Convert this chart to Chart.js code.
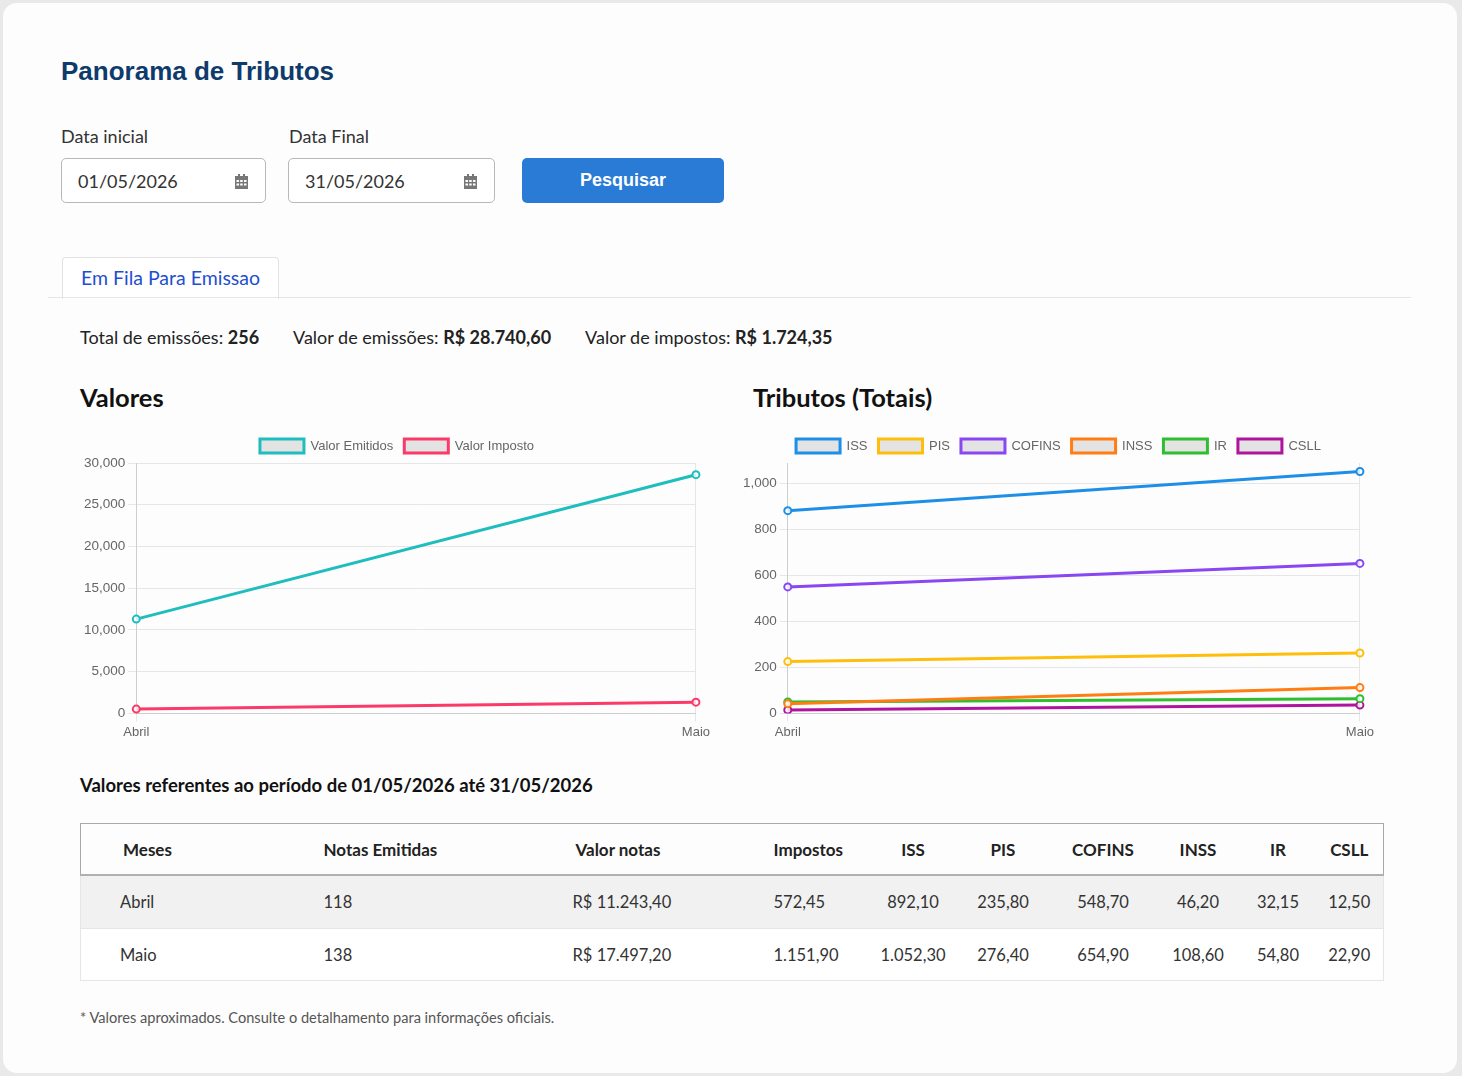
<!DOCTYPE html>
<html lang="pt-BR">
<head>
<meta charset="utf-8">
<title>Panorama de Tributos</title>
<script src="https://cdn.jsdelivr.net/npm/chart.js@4.4.1/dist/chart.umd.min.js"></script>
<style>
    body { margin: 0; background: #e9e9e9; font-family: "Lato", "Noto Sans", sans-serif; color: #222; }
    .card { position: absolute; left: 3px; top: 3px; width: 1454px; height: 1070px; background: #fdfdfd; border-radius: 14px; }
    .abs { position: absolute; }
    h1 { position: absolute; left: 58px; top: 53px; margin: 0; font: bold 26px "Liberation Sans", Arial, sans-serif; color: #0e3a6c; }
    .lbl { font-size: 18px; color: #333; }
    .inp { position: absolute; height: 45px; border: 1px solid #b8b8b8; border-radius: 5px; background: #fff; box-sizing: border-box; }
    .inp span { position: absolute; left: 16px; top: 11px; font-size: 18px; color: #333; }
    .inp svg { position: absolute; right: 17px; top: 15px; }
    .btn { position: absolute; left: 519px; top: 155px; width: 202px; height: 45px; background: #2a7bd6; border-radius: 5px; color: #fff; font: bold 18px "Liberation Sans", Arial, sans-serif; text-align: center; line-height: 45px; }
    .tab { position: absolute; left: 59px; top: 254px; width: 215px; height: 41px; border: 1px solid #e2e2e2; border-bottom: none; border-radius: 4px 4px 0 0; background: #fff; }
    .tab span { position: absolute; left: 18px; top: 8px; font-size: 19.5px; color: #1f4fd0; }
    .rule { position: absolute; left: 45px; top: 294px; width: 1363px; height: 1px; background: #e6e6e6; }
    .resumo { position: absolute; left: 77px; top: 323px; font-size: 18px; color: #222; white-space: nowrap; }
    .resumo span { margin-right: 30px; }
    .resumo b { font-weight: 700; }
    .sec { position: absolute; top: 379px; font-size: 25.5px; font-weight: 700; color: #111; }
    .chartbox { position: absolute; top: 425px; height: 315px; }
    .legenda { position: absolute; left: 77px; top: 771px; font-size: 18.5px; font-weight: 700; color: #111; }
    table { position: absolute; left: 77px; top: 820px; width: 1303px; border-collapse: collapse; table-layout: fixed; font-size: 16.5px; }
    th { height: 50px; padding: 0; font-weight: 700; font-size: 17px; color: #222; border-top: 1.5px solid #a8a8a8; border-bottom: 2px solid #b0b0b0; }
    th:first-child { border-left: 1.5px solid #a8a8a8; }
    th:last-child { border-right: 1.5px solid #a8a8a8; }
    td { height: 52px; padding: 0; color: #333; border-bottom: 1px solid #e6e6e6; }
    td:first-child { border-left: 1px solid #e6e6e6; }
    td:last-child { border-right: 1px solid #e6e6e6; }
    tbody tr:nth-child(1) td { background: #f1f1f1; }
    tbody tr:nth-child(2) td { background: #fff; height: 51px; }
    .l { text-align: left; }
    .c { text-align: center; }
    .nota { position: absolute; left: 77px; top: 1006px; font-size: 14.6px; color: #555; }
</style>
</head>
<body>
<div class="card">
    <h1>Panorama de Tributos</h1>

    <div class="abs lbl" style="left:58px; top:122px;">Data inicial</div>
    <div class="abs lbl" style="left:286px; top:122px;">Data Final</div>
    <div class="inp" style="left:58px; top:155px; width:205px;">
        <span>01/05/2026</span>
        <svg width="13" height="15" viewBox="0 0 13 15"><rect x="0" y="2" width="13" height="13" fill="#777"/><rect x="3" y="0" width="2" height="4" fill="#777"/><rect x="8" y="0" width="2" height="4" fill="#777"/><g fill="#fff"><rect x="1.5" y="6" width="2.5" height="2"/><rect x="5.2" y="6" width="2.5" height="2"/><rect x="9" y="6" width="2.5" height="2"/><rect x="1.5" y="9.5" width="2.5" height="2"/><rect x="5.2" y="9.5" width="2.5" height="2"/><rect x="9" y="9.5" width="2.5" height="2"/></g></svg>
    </div>
    <div class="inp" style="left:285px; top:155px; width:207px;">
        <span>31/05/2026</span>
        <svg width="13" height="15" viewBox="0 0 13 15"><rect x="0" y="2" width="13" height="13" fill="#777"/><rect x="3" y="0" width="2" height="4" fill="#777"/><rect x="8" y="0" width="2" height="4" fill="#777"/><g fill="#fff"><rect x="1.5" y="6" width="2.5" height="2"/><rect x="5.2" y="6" width="2.5" height="2"/><rect x="9" y="6" width="2.5" height="2"/><rect x="1.5" y="9.5" width="2.5" height="2"/><rect x="5.2" y="9.5" width="2.5" height="2"/><rect x="9" y="9.5" width="2.5" height="2"/></g></svg>
    </div>
    <div class="btn">Pesquisar</div>

    <div class="tab"><span>Em Fila Para Emissao</span></div>
    <div class="rule"></div>

    <div class="resumo">
        <span>Total de emissões: <b>256</b></span>
        <span>Valor de emissões: <b>R$ 28.740,60</b></span>
        <span>Valor de impostos: <b>R$ 1.724,35</b></span>
    </div>

    <div class="sec" style="left:77px;">Valores</div>
    <div class="sec" style="left:750px;">Tributos (Totais)</div>

    <div class="chartbox" style="left:78px; width:632px;"><canvas id="valoresChart"></canvas></div>
    <div class="chartbox" style="left:737px; width:637px;"><canvas id="tributosChart"></canvas></div>

    <div class="legenda">Valores referentes ao período de 01/05/2026 até 31/05/2026</div>

    <table id="tabela">
        <colgroup>
            <col style="width:220px"><col style="width:240px"><col style="width:210px"><col style="width:120px">
            <col style="width:85px"><col style="width:95px"><col style="width:105px"><col style="width:85px">
            <col style="width:75px"><col style="width:68px">
        </colgroup>
        <thead><tr></tr></thead>
        <tbody></tbody>
    </table>

    <div class="nota">* Valores aproximados. Consulte o detalhamento para informações oficiais.</div>
</div>

<script>
// dados dos graficos
const meses = ['Abril', 'Maio'];
const valorEmitidos = [11300, 28600];
const valorImposto = [520, 1350];

const iss = [880, 1050];
const pis = [225, 262];
const cofins = [549, 651];
const inss = [42, 112];
const ir = [50, 64];
const csll = [15, 36];

// dados da tabela
const colunas = ['Meses', 'Notas Emitidas', 'Valor notas', 'Impostos', 'ISS', 'PIS', 'COFINS', 'INSS', 'IR', 'CSLL'];
const linhaAbril = ['Abril', '118', 'R$ 11.243,40', '572,45', '892,10', '235,80', '548,70', '46,20', '32,15', '12,50'];
const linhaMaio = ['Maio', '138', 'R$ 17.497,20', '1.151,90', '1.052,30', '276,40', '654,90', '108,60', '54,80', '22,90'];

// montar tabela
const padding = ['42px', '23px', '35px', '23px'];
const headRow = document.querySelector('#tabela thead tr');
colunas.forEach(function (c, i) {
    const th = document.createElement('th');
    th.textContent = c;
    if (i < 4) { th.className = 'l'; th.style.paddingLeft = padding[i]; } else { th.className = 'c'; }
    headRow.appendChild(th);
});
const tbody = document.querySelector('#tabela tbody');
[linhaAbril, linhaMaio].forEach(function (linha) {
    const tr = document.createElement('tr');
    linha.forEach(function (v, i) {
        const td = document.createElement('td');
        td.textContent = v;
        if (i < 4) { td.className = 'l'; td.style.paddingLeft = i === 0 ? '39px' : (i === 2 ? '32px' : padding[i]); } else { td.className = 'c'; }
        tr.appendChild(td);
    });
    tbody.appendChild(tr);
});

Chart.defaults.font.family = "'Liberation Sans', Arial, sans-serif";
Chart.defaults.font.size = 13;
Chart.defaults.color = '#666';

function serie(label, data, cor) {
    return {
        label: label,
        data: data,
        borderColor: cor,
        backgroundColor: 'rgba(0,0,0,0.1)',
        borderWidth: 3,
        pointRadius: 3.5,
        pointBorderWidth: 2,
        pointBackgroundColor: 'rgba(255,255,255,0.8)',
        tension: 0
    };
}

const legendOpts = {
    position: 'top',
    labels: { boxWidth: 44, boxHeight: 14, padding: 11, font: { size: 13 } }
};

window.onload = function () {
    new Chart(document.getElementById('valoresChart').getContext('2d'), {
        type: 'line',
        data: {
            labels: meses,
            datasets: [
                serie('Valor Emitidos', valorEmitidos, '#1fbdbd'),
                serie('Valor Imposto', valorImposto, '#fb3a6a')
            ]
        },
        options: {
            responsive: true,
            maintainAspectRatio: false,
            animation: false,
            locale: 'en-US',
            plugins: { legend: legendOpts, tooltip: { enabled: false } },
            scales: {
                x: { grid: { color: '#e6e6e6' } },
                y: { beginAtZero: true, max: 30000, ticks: { stepSize: 5000, font: { size: 13.5 } }, grid: { color: '#e6e6e6' } }
            }
        }
    });

    new Chart(document.getElementById('tributosChart').getContext('2d'), {
        type: 'line',
        data: {
            labels: meses,
            datasets: [
                serie('ISS', iss, '#1e8fe6'),
                serie('PIS', pis, '#ffbe0b'),
                serie('COFINS', cofins, '#8847f2'),
                serie('INSS', inss, '#ff7d12'),
                serie('IR', ir, '#2fbe2f'),
                serie('CSLL', csll, '#b0149e')
            ]
        },
        options: {
            responsive: true,
            maintainAspectRatio: false,
            animation: false,
            locale: 'en-US',
            plugins: { legend: legendOpts, tooltip: { enabled: false } },
            scales: {
                x: { grid: { color: '#e6e6e6' } },
                y: {
                    min: 0,
                    max: 1087,
                    ticks: { stepSize: 200, font: { size: 13.5 } },
                    grid: { color: '#e6e6e6' },
                    afterBuildTicks: function (axis) {
                        axis.ticks = axis.ticks.filter(function (t) { return t.value % 200 === 0; });
                    }
                }
            }
        }
    });
};
</script>
</body>
</html>
